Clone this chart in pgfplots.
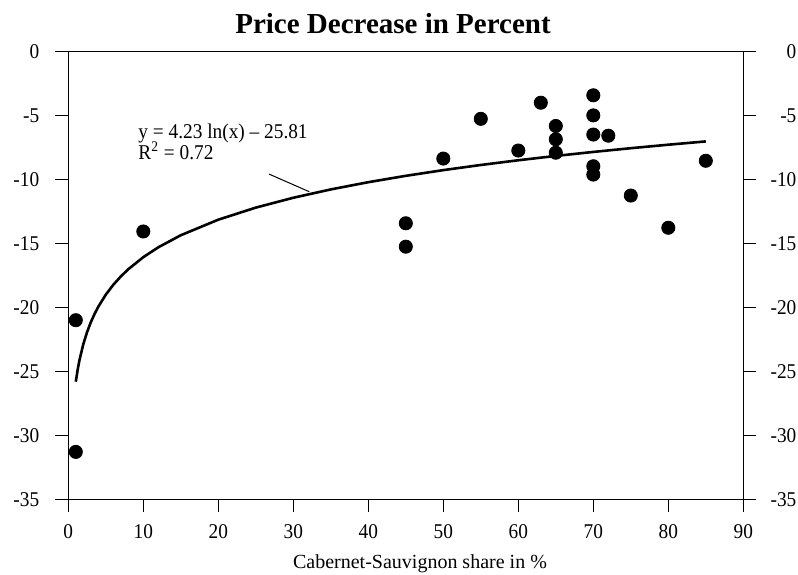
\documentclass[border=0pt]{standalone}
\usepackage{fontspec}
\setmainfont{Liberation Serif}
\newfontfamily\tickfont{Liberation Serif}[FakeStretch=0.92]
\usepackage{pgfplots}
\pgfplotsset{compat=1.18}
\newcommand{\rl}[1]{\makebox[14pt][r]{#1}}
\begin{document}
\begin{tikzpicture}
\pgfplotsset{
  common/.style={
    width=337.5pt, height=223.75pt, scale only axis,
    xmin=0, xmax=90, ymin=-35, ymax=0,
    axis line style={line width=0.6pt},
    tick style={line width=0.6pt, black},
    major tick length=6.5pt,
    tick align=outside,
    ticklabel style={font=\tickfont\fontsize{10.5}{12}\selectfont},
    ytick={-35,-30,...,0},
  }
}
\begin{axis}[common, name=main,
  xtick={0,10,...,90}, xticklabels={0,10,20,30,40,50,60,70,80,90},
  yticklabels={-35,-30,-25,-20,-15,-10,-5,0},
  xtick pos=bottom, ytick pos=left,
  yticklabel style={xshift=-4.5pt},
  xticklabel style={yshift=-2.5pt},
  clip=false,
]
\addplot[only marks, mark=*, mark size=3.3pt, black] coordinates {
(1,-21.0) (1,-31.3) (10,-14.06) (45,-13.42) (45,-15.25) (50,-8.36)
(55,-5.25) (60,-7.73) (63,-3.99) (65,-5.81) (65,-6.85) (65,-7.90)
(70,-3.41) (70,-4.98) (70,-6.48) (72,-6.57) (70,-8.96) (70,-9.61)
(75,-11.25) (80,-13.77) (85,-8.53)
};
\addplot[line width=1.3pt, black, line join=round] coordinates {
(1,-25.81) (1.25,-24.866) (1.5,-24.095) (2,-22.878) (2.5,-21.934) (3,-21.163)
(3.5,-20.511) (4,-19.946) (5,-19.002) (6,-18.231) (7,-17.579) (8,-17.014)
(10,-16.070) (12,-15.299) (15,-14.355) (20,-13.138) (25,-12.194) (30,-11.423)
(35,-10.771) (40,-10.206) (45,-9.708) (50,-9.262) (55,-8.859) (60,-8.491)
(65,-8.152) (70,-7.839) (75,-7.547) (80,-7.274) (85,-7.017)
};
\addplot[line width=0.5pt, black] coordinates {(26.76,-9.57) (32.13,-10.95)};
\node[anchor=base west, inner sep=0pt, font=\tickfont\fontsize{10.5}{12}\selectfont] at (axis cs:9.3,-6.75) {y = 4.23 ln(x) – 25.81};
\node[anchor=base west, inner sep=0pt, font=\tickfont\fontsize{10.5}{12}\selectfont] at (axis cs:9.3,-8.4) {R\textsuperscript{2} = 0.72};
\node[font=\bfseries\fontsize{14.5}{17}\selectfont] at (rel axis cs:0.5,1) [xshift=-6.4pt, yshift=14pt] {Price Decrease in Percent};
\node[font=\fontsize{10}{12}\selectfont] at (rel axis cs:0.5,0) [xshift=7.1pt, yshift=-32.4pt] {Cabernet-Sauvignon share in \%};
\end{axis}
\begin{axis}[common,
  axis x line=none, axis y line*=right,
  yticklabels={\rl{-35},\rl{-30},\rl{-25},\rl{-20},\rl{-15},\rl{-10},\rl{-5},\rl{0}},
  yticklabel style={xshift=2.5pt},
]
\end{axis}
\pgfresetboundingbox
\path (main.south west) +(-34.15pt,-37.4pt) (main.north east) +(27.35pt,25.85pt);
\end{tikzpicture}
\end{document}
